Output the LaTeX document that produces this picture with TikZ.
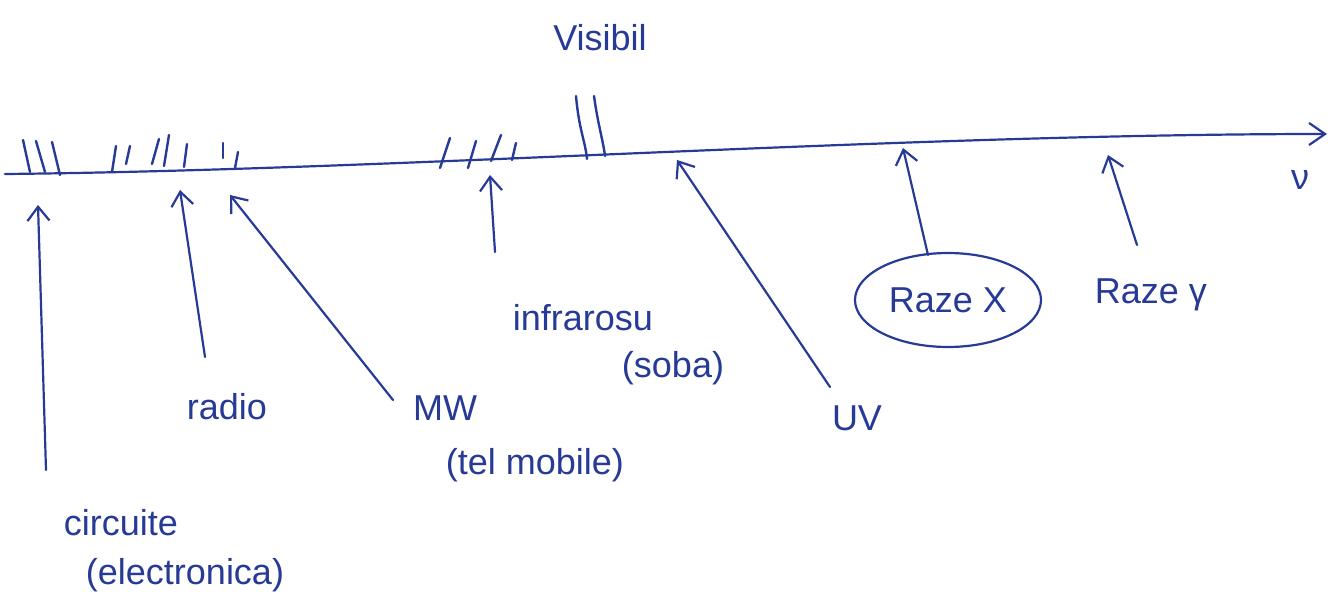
\documentclass[tikz,border=0pt]{standalone}
\usepackage{fontspec}
\setmainfont{Liberation Sans}
\usetikzlibrary{arrows.meta,shapes.geometric}
\definecolor{ink}{RGB}{38,58,150}
\tikzset{
  pen/.style={draw=ink,line width=2.2pt,line cap=round},
  lbl/.style={text=ink,font=\fontsize{36}{42}\selectfont,inner sep=0pt},
  ptr/.style={pen,-{Straight Barb[length=14pt,width=22pt,line width=2.2pt]}},
  tick/.style={pen,line width=2.4pt}
}
\begin{document}
\begin{tikzpicture}[x=1pt,y=-1pt]
\useasboundingbox (0,0) rectangle (1331,608);
% axis
\coordinate (a0) at (5,174);
\coordinate (a1) at (1327,134);
\draw[pen,-{Straight Barb[length=16pt,width=22pt,line width=2.2pt]}] (a0) .. controls (400,170) and (900,134) .. (a1);
\node[lbl] (nu) at (1300,180) {ν};
% ticks: radio/circuits region
\draw[tick] (23,140) -- (30,172);
\draw[tick] (36,141) -- (45,172);
\draw[tick] (52,142) -- (60,175);
\draw[tick] (116,146) -- (112,172);
\draw[tick] (130,146) -- (126,164);
\draw[tick] (159,139) -- (152,164);
\draw[tick] (169,135) -- (164,166);
\draw[tick] (187,144) -- (184,167);
\draw[tick] (223,143) -- (223,158);
\draw[tick] (238,152) -- (235,168);
% infrared ticks
\draw[tick] (450,138) -- (440,168);
\draw[tick] (476,141) -- (468,168);
\draw[tick] (501,135) -- (491,161);
\draw[tick] (516,143) -- (512,160);
% visible ticks
\draw[tick] (576,96) .. controls (579,130) and (585,140) .. (587,159);
\draw[tick] (594,96) .. controls (598,125) and (603,140) .. (605,156);
\node[lbl] (vis) at (600,38) {Visibil};
% labels
\node[lbl] (circ) at (121,523) {circuite};
\node[lbl] (circ2) at (185,575) {(electronica)};
\node[lbl] (radio) at (227,407) {radio};
\node[lbl] (mw) at (445,408) {MW};
\node[lbl] (mw2) at (535,465) {(tel mobile)};
\node[lbl] (ir) at (583,318) {infrarosu};
\node[lbl] (ir2) at (673,368) {(soba)};
\node[lbl] (uv) at (857,418) {UV};
\node[lbl] (rx) at (948,300) {Raze X};
\draw[pen] (rx.center) ellipse [x radius=93, y radius=47];
\node[lbl] (rg) at (1151,295) {Raze γ};
% pointer ends
\coordinate (p1) at (38,205);
\coordinate (p2) at (180,190);
\coordinate (p3) at (230,195);
\coordinate (p4) at (490,175);
\coordinate (p5) at (677,160);
\coordinate (p6) at (903,148);
\coordinate (p7) at (1108,155);
% pointers
\draw[ptr] (46,470) -- (p1);
\draw[ptr] (205,357) -- (p2);
\draw[ptr] (393,400) -- (p3);
\draw[ptr] (495,252) -- (p4);
\draw[ptr] (830,387) -- (p5);
\draw[ptr] (928,255) -- (p6);
\draw[ptr] (1137,245) -- (p7);
\end{tikzpicture}
\end{document}
